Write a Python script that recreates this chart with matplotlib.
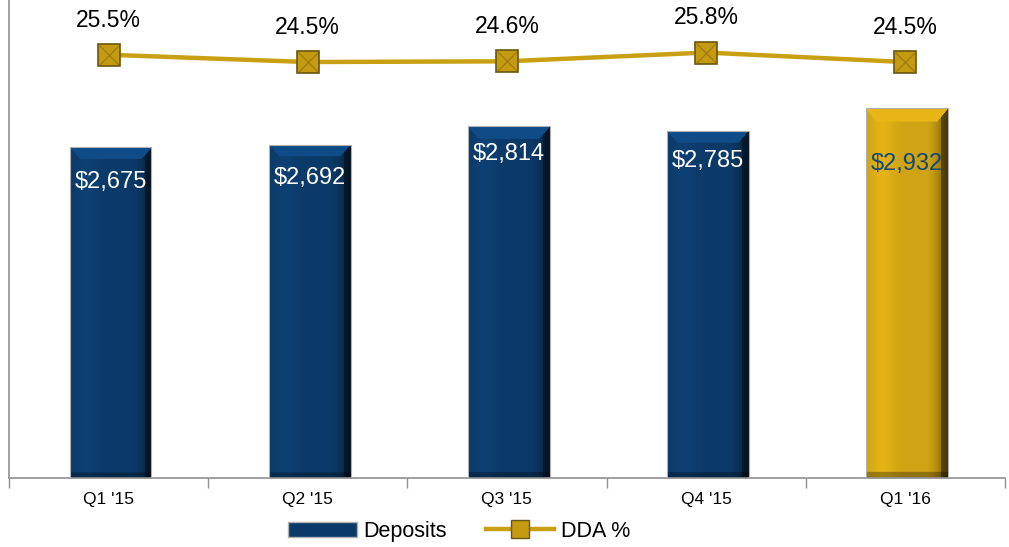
import numpy as np
import matplotlib.pyplot as plt
from matplotlib.patches import Patch, Rectangle
from matplotlib.lines import Line2D
from matplotlib.colors import to_rgb

plt.rcParams['font.family'] = ['Liberation Sans', 'DejaVu Sans']

quarters = ["Q1 '15", "Q2 '15", "Q3 '15", "Q4 '15", "Q1 '16"]
deposits = [2675, 2692, 2814, 2785, 2932]
dda_pct = [25.5, 24.5, 24.6, 25.8, 24.5]

navy = "#0c3a68"
gold = "#cfa314"
line_gold = "#c9a012"


def bevel_image(color, top_gain=1.3, nx=80, ny=300, bevel_x=0.13, bevel_y=0.035):
    # fake the bevelled look of the original bars
    base = np.array(to_rgb(color))
    u = np.linspace(0, 1, nx)[None, :]
    v = np.linspace(0, 1, ny)[:, None]  # 0 = top
    shade = np.ones((ny, nx))
    shade = shade * (1.0 - 0.45 * np.clip((u - 0.75) / 0.25, 0, 1) ** 1.5)
    shade = shade * (1.0 + 0.10 * np.exp(-((u - 0.2) / 0.15) ** 2))
    top = (v < bevel_y) & (u > v / bevel_y * bevel_x) & (u < 1 - v / bevel_y * bevel_x)
    shade = np.where(top, top_gain, shade)
    right = (u > 1 - bevel_x * 0.6)
    shade = np.where(right & ~top, shade * 0.6, shade)
    bottom = (v > 1 - bevel_y * 0.4)
    shade = np.where(bottom, shade * 0.7, shade)
    rgb = np.clip(base[None, None, :] * shade[:, :, None], 0, 1)
    return rgb


fig = plt.figure(figsize=(10.09, 5.47), dpi=100)
ax = fig.add_axes([0.0089, 0.126, 0.987, 0.874])

x = np.arange(len(quarters))
width = 0.41
bar_colors = [navy] * 4 + [gold]
bars = ax.bar(x + 0.01, deposits, width, color=bar_colors, edgecolor="#b0b0b0", linewidth=0.8, zorder=2)

ax.set_xlim(-0.5, len(quarters) - 0.5)
ax.set_ylim(500, 3645)

for rect, c in zip(bars, bar_colors):
    x0, y0 = rect.get_x(), rect.get_y()
    w, h = rect.get_width(), rect.get_height()
    img = bevel_image(c, top_gain=1.3 if c == navy else 1.12)
    im = ax.imshow(img, extent=(x0, x0 + w, ax.get_ylim()[0], y0 + h), aspect="auto", zorder=2.5)
    clip = Rectangle((x0, ax.get_ylim()[0]), w, y0 + h - ax.get_ylim()[0], transform=ax.transData)
    im.set_clip_path(clip)
    rect.set_facecolor("none")
    rect.set_zorder(3)

label_offsets = [-25, -24, -20, -22, -40]
for xi, v, c, off in zip(x, deposits, bar_colors, label_offsets):
    tcol = "white" if c == navy else "#114a73"
    ax.annotate(f"${v:,}", (xi + 0.01, v), xytext=(0, off), textcoords="offset points",
                ha="center", va="center", fontsize=17, color=tcol, zorder=4)

ax.set_xticks(x)
ax.set_xticklabels(quarters, fontsize=12.5)
ax.set_xticks(np.arange(-0.5, len(quarters), 1.0), minor=True)
ax.tick_params(axis="x", which="major", length=0, pad=10)
ax.tick_params(axis="x", which="minor", length=7, color="#909090", width=1)
ax.set_yticks([])
for s in ["top", "right"]:
    ax.spines[s].set_visible(False)
ax.spines["left"].set_color("#909090")
ax.spines["bottom"].set_color("#909090")
ax.spines["left"].set_linewidth(1.2)
ax.spines["bottom"].set_linewidth(1.2)

ax2 = ax.twinx()
ax2.set_ylim(-32.5, 33.0)
ax2.plot(x, dda_pct, color=line_gold, linewidth=3.2, marker="s", markersize=16,
         markerfacecolor="#c49a10", markeredgecolor="#6b5510", markeredgewidth=1.2, zorder=5)
ax2.plot(x, dda_pct, linestyle="none", marker="x", markersize=15,
         markeredgecolor="#8a6c0c", markeredgewidth=1.0, alpha=0.6, zorder=6)
for xi, p in zip(x, dda_pct):
    ax2.annotate(f"{p}%", (xi, p), xytext=(0, 25), textcoords="offset points",
                 ha="center", va="center", fontsize=16.5, color="black")
ax2.set_yticks([])
for s in ["top", "right", "left", "bottom"]:
    ax2.spines[s].set_visible(False)

handles = [
    Patch(facecolor=navy, edgecolor="#b0b0b0", label="Deposits"),
    Line2D([0], [0], color=line_gold, linewidth=3.2, marker="s", markersize=13,
           markerfacecolor="#c49a10", markeredgecolor="#6b5510", label="DDA %"),
]
fig.legend(handles=handles, loc="center", bbox_to_anchor=(0.455, 0.029), ncol=2,
           frameon=False, fontsize=15.5, handlelength=3.2, handletextpad=0.3, columnspacing=1.8)

fig.savefig("out.png", dpi=100)
